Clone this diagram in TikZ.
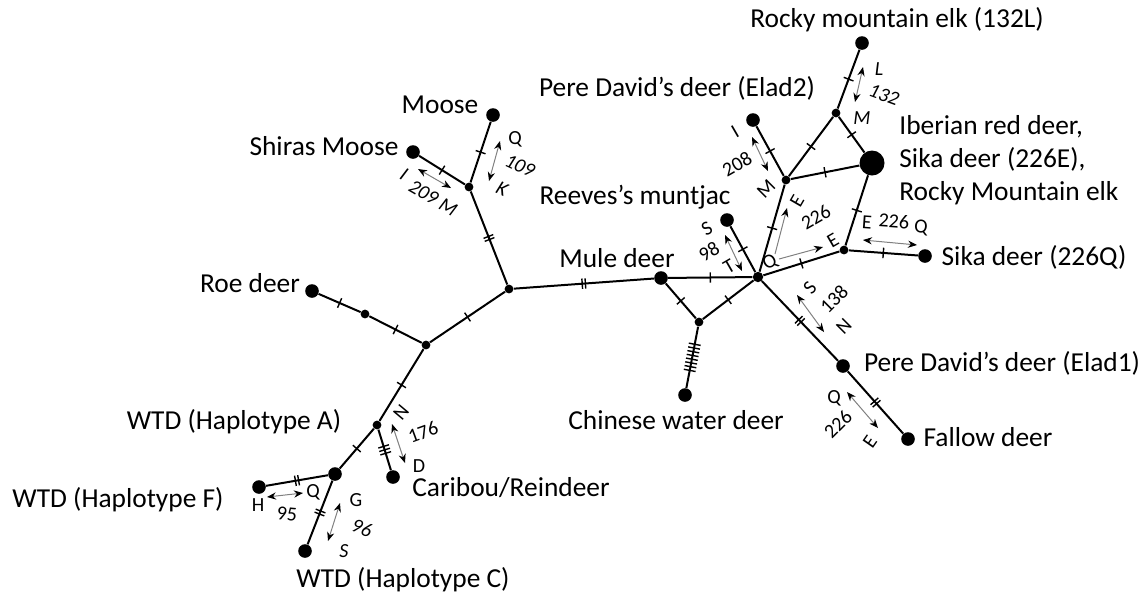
\documentclass[tikz,border=0pt]{standalone}
\usepackage{fontspec}
\setmainfont{Carlito}
\usetikzlibrary{arrows.meta,decorations.markings}
\newcommand{\mutsz}{\fontsize{10}{11}\selectfont}

\tikzset{
  leaf/.style={circle,fill,inner sep=0pt,minimum size=6.8pt},
  knot/.style={circle,fill,inner sep=0pt,minimum size=4.4pt},
  bigknot/.style={circle,fill,inner sep=0pt,minimum size=12.5pt},
  link/.style={line width=1pt},
  lab/.style={font=\fontsize{13.7}{16.6}\selectfont,inner sep=0pt},
  sub/.style={font=\mutsz,inner sep=0pt},
  subit/.style={font=\mutsz\itshape,inner sep=0pt},
  subst/.style={draw=gray,line width=0.5pt,{Stealth[length=4.5pt,width=3.6pt,color=black]}-{Stealth[length=4.5pt,width=3.6pt,color=black]}},
  substto/.style={draw=gray,line width=0.5pt,-{Stealth[length=4.5pt,width=3.6pt,color=black]}},
  cut/.style={postaction={decorate,decoration={markings,
      mark=at position .5 with {\draw[line width=0.7pt] (0,-2.6pt) -- (0,2.6pt);}}}},
  cutcut/.style={postaction={decorate,decoration={markings,
      mark=at position .5 with {\draw[line width=0.7pt] (-0.8pt,-2.6pt) -- (-0.8pt,2.6pt)
        (0.8pt,-2.6pt) -- (0.8pt,2.6pt);}}}},
  cutsthree/.style={postaction={decorate,decoration={markings,
      mark=at position .5 with {\foreach \k in {-1,0,1}
        \draw[line width=0.7pt] (\k*1.8pt,-2.8pt) -- (\k*1.8pt,2.8pt);}}}},
  cutseight/.style={postaction={decorate,decoration={markings,
      mark=at position .5 with {\foreach \k in {-3.5,-2.5,...,3.5}
        \draw[line width=0.7pt] (\k*1.9pt,-3pt) -- (\k*1.9pt,3pt);}}}}
}

\begin{document}
\begin{tikzpicture}[x=0.5pt,y=-0.5pt]
  \useasboundingbox (0,0) rectangle (1144,602);

  % haplotypes and median vectors
  \node[leaf] (moose)   at (493,115) {};
  \node[leaf] (shiras)  at (413,152) {};
  \node[knot] (jmoose)  at (469,187) {};
  \node[knot] (ja)      at (509,289) {};
  \node[leaf] (roe)     at (312,291) {};
  \node[knot] (jroe)    at (365,314) {};
  \node[knot] (jb)      at (426,345) {};
  \node[knot] (jn)      at (377,425) {};
  \node[leaf] (wtda)    at (335,474) {};
  \node[leaf] (caribou) at (393,477) {};
  \node[leaf] (wtdf)    at (259,487) {};
  \node[leaf] (wtdc)    at (305,551) {};
  \node[leaf] (mule)    at (661,278) {};
  \node[knot,minimum size=5.2pt] (hub) at (758,277) {};
  \node[knot] (jw)      at (699,322) {};
  \node[leaf] (water)   at (685,395) {};
  \node[leaf] (muntjac) at (727,220) {};
  \node[knot] (jm)      at (786,180) {};
  \node[leaf] (elad2)   at (753,120) {};
  \node[knot] (jr)      at (836,113) {};
  \node[leaf] (rocky)   at (862,43)  {};
  \node[bigknot] (big)  at (872,163) {};
  \node[knot] (js)      at (844,250) {};
  \node[leaf] (sikaq)   at (925,256) {};
  \node[leaf] (elad1)   at (843,366) {};
  \node[leaf] (fallow)  at (908,439) {};

  % links, ticks = mutations
  \draw[link,cut] (moose) -- (jmoose);
  \draw[link,cut] (shiras) -- (jmoose);
  \draw[link,cutcut] (jmoose) -- (ja);
  \draw[link,cutcut] (ja) -- (mule);
  \draw[link,cut] (ja) -- (jb);
  \draw[link,cut] (jb) -- (jroe);
  \draw[link,cut] (jroe) -- (roe);
  \draw[link,cut] (jb) -- (jn);
  \draw[link,cut] (jn) -- (wtda);
  \draw[link,cutsthree] (jn) -- (caribou);
  \draw[link,cutcut] (wtda) -- (wtdf);
  \draw[link,cutcut] (wtda) -- (wtdc);
  \draw[link,cut] (mule) -- (hub);
  \draw[link,cut] (mule) -- (jw);
  \draw[link,cut] (jw) -- (hub);
  \draw[link,cutseight] (jw) -- (water);
  \draw[link,cut] (hub) -- (muntjac);
  \draw[link,cut] (hub) -- (jm);
  \draw[link,cut] (hub) -- (js);
  \draw[link,cutcut] (hub) -- (elad1);
  \draw[link,cutcut] (elad1) -- (fallow);
  \draw[link,cut] (jm) -- (elad2);
  \draw[link,cut] (jm) -- (jr);
  \draw[link,cut] (jm) -- (big);
  \draw[link,cut] (jr) -- (rocky);
  \draw[link,cut] (jr) -- (big);
  \draw[link,cut] (big) -- (js);
  \draw[link,cut] (js) -- (sikaq);

  % names
  \node[lab] (lmoose)   at (440,105) {Moose};
  \node[lab] (lshiras)  at (324,146) {Shiras Moose};
  \node[lab] (lroe)     at (250,283) {Roe deer};
  \node[lab] (lmule)    at (617,258) {Mule deer};
  \node[lab] (lmuntjac) at (635,197) {Reeves's muntjac};
  \node[lab] (lelad2)   at (677,88)  {Pere David’s deer (Elad2)};
  \node[lab] (lrocky)   at (897,20)  {Rocky mountain elk (132L)};
  \node[lab,anchor=west,align=left] (lbig) at (899,160)
    {Iberian red deer,\\Sika deer (226E),\\Rocky Mountain elk};
  \node[lab] (lsikaq)   at (1034,257) {Sika deer (226Q)};
  \node[lab] (lelad1)   at (1002,363) {Pere David’s deer (Elad1)};
  \node[lab] (lfallow)  at (988,437)  {Fallow deer};
  \node[lab] (lwater)   at (676,420)  {Chinese water deer};
  \node[lab] (lcaribou) at (511,488)  {Caribou/Reindeer};
  \node[lab] (lwtda)    at (234,422)  {WTD (Haplotype A)};
  \node[lab] (lwtdf)    at (118,500)  {WTD (Haplotype F)};
  \node[lab] (lwtdc)    at (403,580)  {WTD (Haplotype C)};

  % substitutions
  \coordinate (s109a) at (500,141); \coordinate (s109b) at (489,181);
  \draw[subst] (s109a) -- (s109b);
  \node[sub] (t109q) at (515,139) {Q};
  \node[subit,rotate=-25] (t109n) at (520,166) {109};
  \node[subit,rotate=-25] (t109k) at (502,189) {K};

  \coordinate (s209a) at (418,169); \coordinate (s209b) at (451,188);
  \draw[subst] (s209a) -- (s209b);
  \node[subit,rotate=-30] (t209i) at (404,174) {I};
  \node[subit,rotate=-30] (t209n) at (433,198) {209 M};

  \coordinate (s176a) at (392,424); \coordinate (s176b) at (405,463);
  \draw[subst] (s176a) -- (s176b);
  \node[sub,rotate=50] (t176n) at (401,412) {N};
  \node[sub,rotate=20] (t176m) at (423,432) {176};
  \node[sub] (t176d) at (419,466) {D};

  \coordinate (s95a) at (267,497); \coordinate (s95b) at (303,493);
  \draw[subst] (s95a) -- (s95b);
  \node[sub] (t95h) at (258,505) {H};
  \node[sub] (t95q) at (313,492) {Q};
  \node[sub,rotate=-5] (t95n) at (287,514) {95};

  \coordinate (s96a) at (340,503); \coordinate (s96b) at (328,541);
  \draw[subst] (s96a) -- (s96b);
  \node[sub] (t96g) at (356,500) {G};
  \node[subit,rotate=-20] (t96n) at (362,528) {96};
  \node[subit] (t96s) at (344,551) {S};

  \coordinate (s132a) at (863,67); \coordinate (s132b) at (855,102);
  \draw[subst] (s132a) -- (s132b);
  \node[subit] (t132l) at (879,69) {L};
  \node[subit,rotate=-20] (t132n) at (884,95) {132};
  \node[subit] (t132m) at (862,118) {M};

  \coordinate (s208a) at (752,137); \coordinate (s208b) at (768,171);
  \draw[subst] (s208a) -- (s208b);
  \node[sub,rotate=30] (t208i) at (735,132) {I};
  \node[sub,rotate=30] (t208n) at (737,164) {208};
  \node[sub,rotate=45] (t208m) at (766,189) {M};

  \coordinate (s98a) at (725,235); \coordinate (s98b) at (742,271);
  \draw[subst] (s98a) -- (s98b);
  \node[sub,rotate=30] (t98s) at (707,229) {S};
  \node[sub,rotate=30] (t98n) at (709,252) {98};
  \node[sub,rotate=30] (t98t) at (729,266) {T};

  \node[sub,rotate=30] (t226q) at (770,263) {Q};
  \coordinate (s226a) at (775,254); \coordinate (s226b) at (787,208);
  \coordinate (s226c) at (779,259); \coordinate (s226d) at (823,247);
  \draw[substto] (s226a) -- (s226b);
  \draw[substto] (s226c) -- (s226d);
  \node[sub,rotate=60] (t226e) at (797,201) {E};
  \node[sub,rotate=30] (t226n) at (816,217) {226};
  \node[sub,rotate=30] (t226f) at (833,240) {E};

  \coordinate (s226g) at (863,240); \coordinate (s226h) at (917,245);
  \draw[subst] (s226g) -- (s226h);
  \node[sub,rotate=-4] (t226g) at (867,222) {E};
  \node[sub,rotate=-4] (t226m) at (894,221) {226};
  \node[sub,rotate=-4] (t226h) at (921,228) {Q};

  \coordinate (s138a) at (797,295); \coordinate (s138b) at (824,332);
  \draw[subst] (s138a) -- (s138b);
  \node[sub,rotate=50] (t138s) at (810,288) {S};
  \node[sub,rotate=45] (t138n) at (834,299) {138};
  \node[sub,rotate=45] (t138m) at (844,326) {N};

  \coordinate (s226i) at (847,392); \coordinate (s226j) at (878,428);
  \draw[subst] (s226i) -- (s226j);
  \node[sub] (t226i) at (834,398) {Q};
  \node[sub,rotate=45] (t226k) at (838,424) {226};
  \node[sub,rotate=55] (t226j) at (870,442) {E};
\end{tikzpicture}
\end{document}
